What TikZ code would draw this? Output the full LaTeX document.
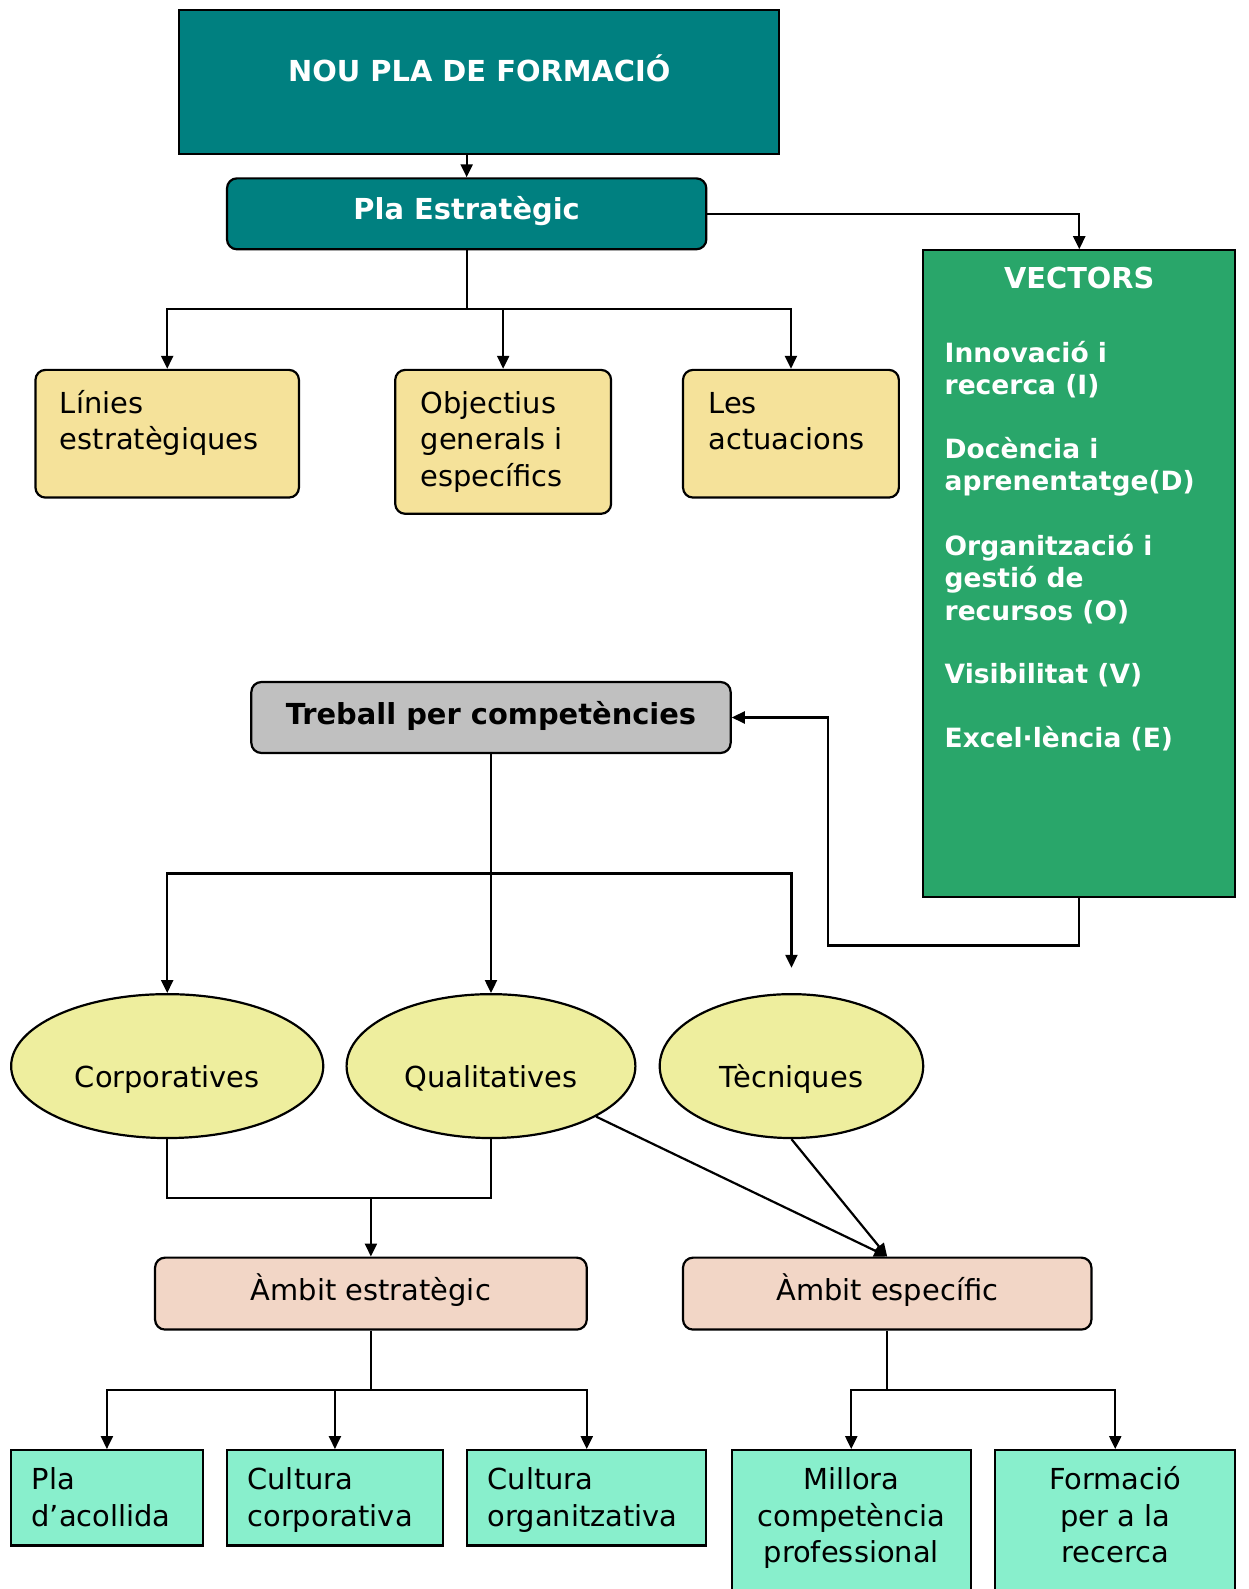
\documentclass[tikz,border=0pt]{standalone}
\usepackage{fontspec}
\setmainfont{DejaVu Sans}
\usetikzlibrary{arrows.meta,shapes.geometric}
\definecolor{tealbox}{RGB}{0,128,128}
\definecolor{vecgreen}{RGB}{41,166,106}
\definecolor{sand}{RGB}{245,226,154}
\definecolor{pale}{RGB}{238,238,158}
\definecolor{greybox}{RGB}{192,192,192}
\definecolor{peach}{RGB}{242,214,198}
\definecolor{aqua}{RGB}{136,239,204}
\newcommand\mkbox[6]{\node[#2, inner sep=0pt, minimum width={(#5-#3)*1.013pt}, minimum height={(#6-#4)*1.013pt}] (#1) at ({(#3+#5)/2},{(#4+#6)/2}) {};}
\begin{document}
\begin{tikzpicture}[x=1.013pt,y=-1.013pt,
  boxline/.style={draw=black, line width=2.2pt},
  sqbox/.style={boxline, rectangle},
  rbox/.style={boxline, rectangle, rounded corners=10pt},
  conn/.style={line width=2.2pt},
  arr/.style={line width=2.2pt, -{Triangle[length=13pt,width=12pt]}},
  rtxt/.style={inner sep=0pt, font=\fontsize{28.9}{36.5}\selectfont},
  btxt/.style={inner sep=0pt, font=\fontsize{28.9}{36.5}\selectfont\bfseries},
  vtxt/.style={inner sep=0pt, font=\fontsize{26.5}{32.4}\selectfont\bfseries, text=white},
  ell/.style={boxline, ellipse, fill=pale, inner sep=0pt}
]
\useasboundingbox (0,0) rectangle (1232,1568);
\fill[white] (0,0) rectangle (1232,1568);
\clip (0,0) rectangle (1232,1568);

% top part
\mkbox{nou}{sqbox, fill=tealbox}{177}{10}{769}{152}
\node[btxt, text=white, anchor=base] (nouT) at (473,80) {NOU PLA DE FORMACIÓ};
\mkbox{pla}{rbox, fill=tealbox}{224}{176}{697}{246}
\node[btxt, text=white, anchor=base] (plaT) at (460.5,217) {Pla Estratègic};

\mkbox{lin}{rbox, fill=sand}{35}{365}{295}{491}
\node[rtxt, anchor=base west, align=left] (linT) at (59,444) {Línies\\estratègiques};
\mkbox{obj}{rbox, fill=sand}{390}{365}{603}{507}
\node[rtxt, anchor=base west, align=left] (objT) at (415,480) {Objectius\\generals i\\específics};
\mkbox{les}{rbox, fill=sand}{674}{365}{887}{491}
\node[rtxt, anchor=base west, align=left] (lesT) at (699,444) {Les\\actuacions};

\mkbox{vec}{sqbox, fill=vecgreen}{911}{247}{1219}{885}
\node[vtxt, font=\fontsize{28.8}{34}\selectfont\bfseries, anchor=base] (vecT) at (1065,285) {VECTORS};
\node[vtxt, anchor=base west, align=left] (vecL) at (932,738) {Innovació i\\recerca (I)\\[31pt]Docència i\\aprenentatge(D)\\[32pt]Organització i\\gestió de\\recursos (O)\\[31pt]Visibilitat (V)\\[32pt]Excel·lència (E)};

% middle
\mkbox{trb}{rbox, fill=greybox}{248}{673}{721}{743}
\node[btxt, anchor=base] (trbT) at (484.5,715) {Treball per competències};

\node[ell, minimum width={308*1.013pt}, minimum height={142*1.013pt}] (cor) at (165,1052) {};
\node[rtxt, anchor=base] (corT) at (165,1073) {Corporatives};
\node[ell, minimum width={285*1.013pt}, minimum height={142*1.013pt}] (qua) at (484.5,1052) {};
\node[rtxt, anchor=base] (quaT) at (484.5,1073) {Qualitatives};
\node[ell, minimum width={260*1.013pt}, minimum height={142*1.013pt}] (tec) at (781,1052) {};
\node[rtxt, anchor=base] (tecT) at (781,1073) {Tècniques};

\mkbox{ame}{rbox, fill=peach}{153}{1241}{579}{1312}
\node[rtxt, anchor=base] (ameT) at (366,1283) {Àmbit estratègic};
\mkbox{ase}{rbox, fill=peach}{674}{1241}{1077}{1312}
\node[rtxt, anchor=base] (aseT) at (875.5,1283) {Àmbit específic};

% bottom
\mkbox{pac}{sqbox, fill=aqua}{11}{1431}{200}{1525}
\node[rtxt, anchor=base west, align=left] (pacT) at (31,1506) {Pla\\d’acollida};
\mkbox{ccp}{sqbox, fill=aqua}{224}{1431}{437}{1525}
\node[rtxt, anchor=base west, align=left] (ccpT) at (244,1506) {Cultura\\corporativa};
\mkbox{cor2}{sqbox, fill=aqua}{461}{1431}{697}{1525}
\node[rtxt, anchor=base west, align=left] (cor2T) at (481,1506) {Cultura\\organitzativa};
\mkbox{mil}{sqbox, fill=aqua}{722}{1431}{958}{1600}
\node[rtxt, anchor=base, align=center] (milT) at (840,1542) {Millora\\competència\\professional};
\mkbox{frm}{sqbox, fill=aqua}{982}{1431}{1219}{1600}
\node[rtxt, anchor=base, align=center] (frmT) at (1100.5,1542) {Formació\\per a la\\recerca};

% connectors
\draw[arr] (pla.north |- nou.south) -- (pla.north);
\draw[arr] (pla.east) -| (vec.north);
\coordinate (j1) at (460.5,305);
\draw[conn] (pla.south) -- (j1);
\draw[arr] (j1) -| (lin.north);
\draw[arr] (j1) -| (obj.north);
\draw[arr] (j1) -| (les.north);

\coordinate (v1) at (817,933);
\draw[arr] (vec.south) |- (v1) |- (trb.east);

\coordinate (j2) at (484.5,862);
\coordinate (tecend) at (781,955);
\draw[arr] (trb.south) -- (qua.north);
\draw[arr] (j2) -| (cor.north);
\draw[arr] (j2) -| (tecend);

\coordinate (j3) at (366,1182);
\draw[conn] (cor.south) |- (j3) -| (qua.south);
\draw[arr] (j3) -- (ame.north);
\draw[arr] (qua) -- (ase.north);
\draw[arr] (tec.south) -- (ase.north);

\coordinate (j4) at (366,1372);
\draw[conn] (ame.south) -- (j4);
\draw[arr] (j4) -| (pac.north);
\draw[arr] (j4) -| (ccp.north);
\draw[arr] (j4) -| (cor2.north);
\coordinate (j5) at (875.5,1372);
\draw[conn] (ase.south) -- (j5);
\draw[arr] (j5) -| (mil.north);
\draw[arr] (j5) -| (frm.north);
\end{tikzpicture}
\end{document}
